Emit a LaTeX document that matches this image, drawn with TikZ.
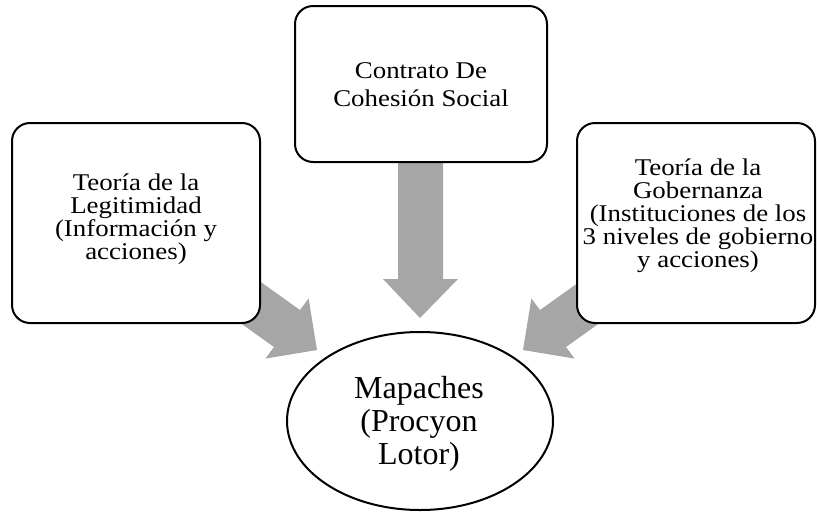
\documentclass[tikz,border=0pt]{standalone}
\usepackage{fontspec}
\setmainfont{Liberation Serif}
\newfontfamily\boxfont{Liberation Serif}[FakeStretch=1.12]
\usetikzlibrary{shapes.geometric}
\definecolor{arrowgray}{RGB}{166,166,166}
\tikzset{
  boxst/.style={draw, line width=2pt, rounded corners=18pt, fill=white, inner sep=0pt},
  boxtext/.style={align=center, inner sep=0pt, font=\boxfont\fontsize{24}{23}\selectfont},
  toptext/.style={align=center, inner sep=0pt, font=\boxfont\fontsize{24}{27.7}\selectfont},
  elltext/.style={align=center, inner sep=0pt, font=\fontsize{32}{33}\selectfont},
  ellst/.style={draw, ellipse, line width=2pt, fill=white, inner sep=0pt},
  blockarrow/.style={fill=arrowgray, draw=none}
}
\begin{document}
\begin{tikzpicture}[x=1pt,y=-1pt]
\useasboundingbox (0,0) rectangle (817,512);
% block arrows
\fill[blockarrow] (398,150) -- (443,150) -- (443,279) -- (458,279) -- (420,318) -- (383,279) -- (398,279) -- cycle;
\fill[blockarrow] (523,350) -- (531.4,298.4) -- (540,310) -- (589,275) -- (615,312) -- (566,347) -- (574.6,358.6) -- cycle;
\fill[blockarrow] (317,350) -- (308.6,298.4) -- (300,310) -- (251,275) -- (225,312) -- (274,347) -- (265.4,358.6) -- cycle;
% boxes
\node[boxst, minimum width=248pt, minimum height=200pt] (legit) at (136,223) {};
\node[boxst, minimum width=252pt, minimum height=156pt] (cohesion) at (421,84) {};
\node[boxst, minimum width=238pt, minimum height=200pt] (gob) at (696,223) {};
\node[ellst, minimum width=266pt, minimum height=178pt] (map) at (420,421) {};
% texts
\node[boxtext] (legitT) at (136,219.4) {Teoría de la\\Legitimidad\\(Información y\\acciones)};
\node[toptext] (cohesionT) at (421,85) {Contrato De\\Cohesión Social};
\node[boxtext] (gobT) at (698,215.4) {Teoría de la\\Gobernanza\\(Instituciones de los\\3 niveles de gobierno\\y acciones)};
\node[elltext] (mapT) at (419,423.9) {Mapaches\\(Procyon\\Lotor)};
\end{tikzpicture}
\end{document}
